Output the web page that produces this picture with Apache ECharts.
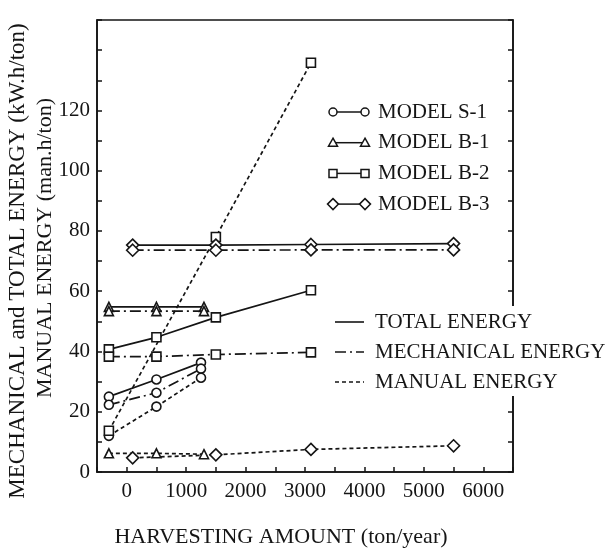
<!DOCTYPE html>
<html>
<head>
<meta charset="utf-8">
<script src="https://cdn.jsdelivr.net/npm/echarts@6/dist/echarts.min.js"></script>
<style>
  html, body { margin: 0; padding: 0; background: #fff; }
  #chart { width: 606px; height: 554px; }
</style>
</head>
<body>
<div id="chart"></div>
<script>
// harvesting amount (ton/year) per model
const X_S1 = [-300, 500, 1250]
const X_B1 = [-300, 500, 1300]
const X_B2 = [-300, 500, 1500, 3100]
const X_B3 = [100, 1500, 3100, 5500]

// total energy (kW.h/ton)
const S1_TOTAL = [25.0, 30.7, 36.3]
const B1_TOTAL = [54.8, 54.8, 54.8]
const B2_TOTAL = [40.7, 44.7, 51.3, 60.3]
const B3_TOTAL = [75.3, 75.3, 75.5, 75.8]

// mechanical energy (kW.h/ton)
const S1_MECH = [22.3, 26.3, 34.3]
const B1_MECH = [53.4, 53.4, 53.4]
const B2_MECH = [38.3, 38.3, 39.0, 39.7]
const B3_MECH = [73.6, 73.6, 73.7, 73.7]

// manual energy (man.h/ton)
const S1_MANUAL = [12.0, 21.7, 31.3]
const B1_MANUAL = [6.2, 6.2, 5.9]
const B2_MANUAL = [13.7, null, 78.0, 135.8]
const B3_MANUAL = [4.7, 5.7, 7.5, 8.7]

const MODELS = ['MODEL S-1', 'MODEL B-1', 'MODEL B-2', 'MODEL B-3']
const ENERGY_KINDS = ['TOTAL ENERGY', 'MECHANICAL ENERGY', 'MANUAL ENERGY']

const INK = '#151515'
const FONT = '"Liberation Serif", "DejaVu Serif", serif'
const DASH_MECH = [11, 4, 2, 4]
const DASH_MANUAL = [4, 3]

const markers = {
  'MODEL S-1': { symbol: 'circle', size: 9 },
  'MODEL B-1': { symbol: 'triangle', size: 9 },
  'MODEL B-2': { symbol: 'rect', size: 9 },
  'MODEL B-3': { symbol: 'diamond', size: 12 }
}

const makeSeries = (model, kind, xs, ys, dash) => {
  const m = markers[model]
  return {
    name: model + ' ' + kind,
    type: 'line',
    data: xs.map((x, i) => [x, ys[i]]).filter(p => p[1] != null),
    symbol: m.symbol,
    symbolSize: m.size,
    showAllSymbol: true,
    lineStyle: { color: INK, width: 1.7, type: dash },
    itemStyle: { color: '#fff', borderColor: INK, borderWidth: 1.6 },
    emphasis: { disabled: true },
    z: 3
  }
}

const series = [
  makeSeries('MODEL S-1', 'total', X_S1, S1_TOTAL, 'solid'),
  makeSeries('MODEL S-1', 'mech', X_S1, S1_MECH, DASH_MECH),
  makeSeries('MODEL S-1', 'manual', X_S1, S1_MANUAL, DASH_MANUAL),
  makeSeries('MODEL B-1', 'total', X_B1, B1_TOTAL, 'solid'),
  makeSeries('MODEL B-1', 'mech', X_B1, B1_MECH, DASH_MECH),
  makeSeries('MODEL B-1', 'manual', X_B1, B1_MANUAL, DASH_MANUAL),
  makeSeries('MODEL B-2', 'total', X_B2, B2_TOTAL, 'solid'),
  makeSeries('MODEL B-2', 'mech', X_B2, B2_MECH, DASH_MECH),
  makeSeries('MODEL B-2', 'manual', X_B2, B2_MANUAL, DASH_MANUAL),
  makeSeries('MODEL B-3', 'total', X_B3, B3_TOTAL, 'solid'),
  makeSeries('MODEL B-3', 'mech', X_B3, B3_MECH, DASH_MECH),
  makeSeries('MODEL B-3', 'manual', X_B3, B3_MANUAL, DASH_MANUAL)
]

// legend keys drawn as graphics (marker-line-marker and line styles)
const keyShape = (symbol, cx, cy) => {
  const style = { fill: '#fff', stroke: INK, lineWidth: 1.5 }
  if (symbol === 'circle') return { type: 'circle', shape: { cx, cy, r: 4 }, style }
  if (symbol === 'rect') return { type: 'rect', shape: { x: cx - 4, y: cy - 4, width: 8, height: 8 }, style }
  if (symbol === 'triangle') return { type: 'polygon', shape: { points: [[cx, cy - 4.5], [cx + 4.5, cy + 3.5], [cx - 4.5, cy + 3.5]] }, style }
  return { type: 'polygon', shape: { points: [[cx, cy - 5.5], [cx + 5.5, cy], [cx, cy + 5.5], [cx - 5.5, cy]] }, style }
}

const graphic = []
MODELS.forEach((name, i) => {
  const y = 112 + i * 30.7
  graphic.push({ type: 'line', z: 10, shape: { x1: 333, y1: y, x2: 365, y2: y }, style: { stroke: INK, lineWidth: 1.5 } })
  graphic.push(Object.assign(keyShape(markers[name].symbol, 333, y), { z: 11 }))
  graphic.push(Object.assign(keyShape(markers[name].symbol, 365, y), { z: 11 }))
  graphic.push({ type: 'text', z: 10, x: 378, y: y, style: { text: name, font: '21px ' + FONT, fill: INK, verticalAlign: 'middle' } })
})
const kindDash = [null, DASH_MECH, DASH_MANUAL]
// white block so the legend text breaks the right frame line, as in the print
graphic.push({ type: 'rect', z: 9, shape: { x: 370, y: 306, width: 236, height: 90 }, style: { fill: '#fff' } })
ENERGY_KINDS.forEach((name, i) => {
  const y = 322 + i * 30
  graphic.push({ type: 'line', z: 10, shape: { x1: 335, y1: y, x2: 364, y2: y }, style: { stroke: INK, lineWidth: 1.6, lineDash: kindDash[i] } })
  graphic.push({ type: 'text', z: 10, x: 375, y: y, style: { text: name, font: '21px ' + FONT, fill: INK, verticalAlign: 'middle' } })
})

// axis titles
graphic.push({ type: 'text', x: 281, y: 537, style: { text: 'HARVESTING AMOUNT (ton/year)', font: '22px ' + FONT, fill: INK, align: 'center', verticalAlign: 'middle' } })
graphic.push({ type: 'text', x: 18, y: 261, rotation: Math.PI / 2, style: { text: 'MECHANICAL and TOTAL ENERGY (kW.h/ton)', font: '23px ' + FONT, fill: INK, align: 'center', verticalAlign: 'middle' } })
graphic.push({ type: 'text', x: 45, y: 248, rotation: Math.PI / 2, style: { text: 'MANUAL ENERGY (man.h/ton)', font: '22px ' + FONT, fill: INK, align: 'center', verticalAlign: 'middle' } })

const chart = echarts.init(document.getElementById('chart'))

const option = {
  backgroundColor: '#fff',
  animation: false,
  grid: { left: 97, right: 93, top: 20, bottom: 82, show: true, borderColor: INK, borderWidth: 1.6 },
  xAxis: {
    type: 'value',
    min: -500,
    max: 6500,
    interval: 500,
    splitLine: { show: false },
    axisLine: { onZero: false, lineStyle: { color: INK, width: 1.6 } },
    axisTick: { inside: true, length: 5, lineStyle: { color: INK, width: 1.5 } },
    axisLabel: {
      color: INK,
      fontFamily: FONT,
      fontSize: 21,
      margin: 9,
      showMinLabel: true,
      showMaxLabel: true,
      formatter: v => (v >= 0 && v <= 6000 && v % 1000 === 0) ? String(v) : ''
    }
  },
  yAxis: [
    {
      type: 'value',
      min: 0,
      max: 150,
      interval: 10,
      splitLine: { show: false },
      axisLine: { show: true, onZero: false, lineStyle: { color: INK, width: 1.6 } },
      axisTick: { show: true, inside: true, length: 5, lineStyle: { color: INK, width: 1.5 } },
      axisLabel: {
        color: INK,
        fontFamily: FONT,
        fontSize: 21,
        margin: 7,
        formatter: v => (v % 20 === 0 && v <= 120) ? String(v) : ''
      }
    },
    {
      type: 'value',
      position: 'right',
      min: 0,
      max: 150,
      interval: 10,
      splitLine: { show: false },
      axisLine: { show: true, onZero: false, lineStyle: { color: INK, width: 1.6 } },
      axisTick: { show: true, inside: true, length: 5, lineStyle: { color: INK, width: 1.5 } },
      axisLabel: { show: false }
    }
  ],
  series: series,
  graphic: graphic
}

chart.setOption(option)
</script>
</body>
</html>
